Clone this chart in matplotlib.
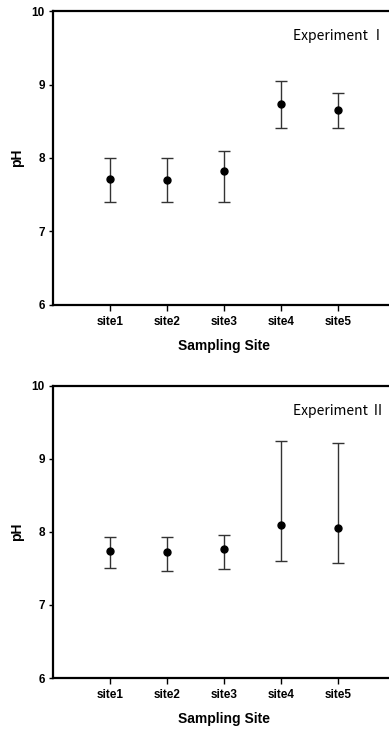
import matplotlib
matplotlib.use('Agg')
import matplotlib.pyplot as plt

sites = ['site1', 'site2', 'site3', 'site4', 'site5']

# Experiment I
ph1 = [7.71, 7.70, 7.82, 8.73, 8.65]
ph1_low = [7.40, 7.40, 7.40, 8.41, 8.41]
ph1_high = [8.00, 8.00, 8.09, 9.05, 8.88]

# Experiment II
ph2 = [7.74, 7.73, 7.76, 8.09, 8.05]
ph2_low = [7.51, 7.46, 7.49, 7.60, 7.58]
ph2_high = [7.93, 7.93, 7.96, 9.24, 9.22]

labels = ['Experiment Ⅰ', 'Experiment Ⅱ']

tick_font = ['Liberation Sans Narrow', 'Liberation Sans', 'DejaVu Sans']

fig = plt.figure(figsize=(3.89, 7.30), dpi=100)
ax1 = fig.add_axes([0.1362, 0.5826, 0.879, 0.402])
ax2 = fig.add_axes([0.1362, 0.0712, 0.879, 0.4004])

for ax, y, lo, hi, lab in [(ax1, ph1, ph1_low, ph1_high, labels[0]),
                           (ax2, ph2, ph2_low, ph2_high, labels[1])]:
    x = list(range(1, len(sites) + 1))
    err = [[m - l for m, l in zip(y, lo)], [h - m for m, h in zip(y, hi)]]
    ax.errorbar(x, y, yerr=err, fmt='o', color='black', ms=5,
                ecolor='#333333', elinewidth=1.0, capsize=4, capthick=1.0)
    ax.set_xlim(0, 6)
    ax.set_ylim(6, 10)
    ax.set_yticks([6, 7, 8, 9, 10])
    ax.set_xticks(x)
    ax.set_xticklabels(sites)
    for s in ['left', 'bottom', 'top']:
        ax.spines[s].set_linewidth(1.6)
    ax.spines['right'].set_visible(False)
    ax.tick_params(direction='out', length=4, width=1, pad=4)
    ax.tick_params(axis='y', length=3, pad=3)
    for t in ax.get_xticklabels() + ax.get_yticklabels():
        t.set_family(tick_font)
        t.set_fontweight('bold')
        t.set_fontsize(8.5)
    ax.set_xlabel('Sampling Site', family=tick_font, fontweight='bold',
                  fontsize=10, labelpad=8)
    ax.set_ylabel('pH', family=tick_font, fontweight='bold',
                  fontsize=10, labelpad=5)
    ax.text(0.971, 0.915, lab, transform=ax.transAxes, ha='right', va='center',
            family=['Noto Sans CJK KR', 'DejaVu Sans'], fontsize=10)

fig.savefig('out.png', dpi=100)
